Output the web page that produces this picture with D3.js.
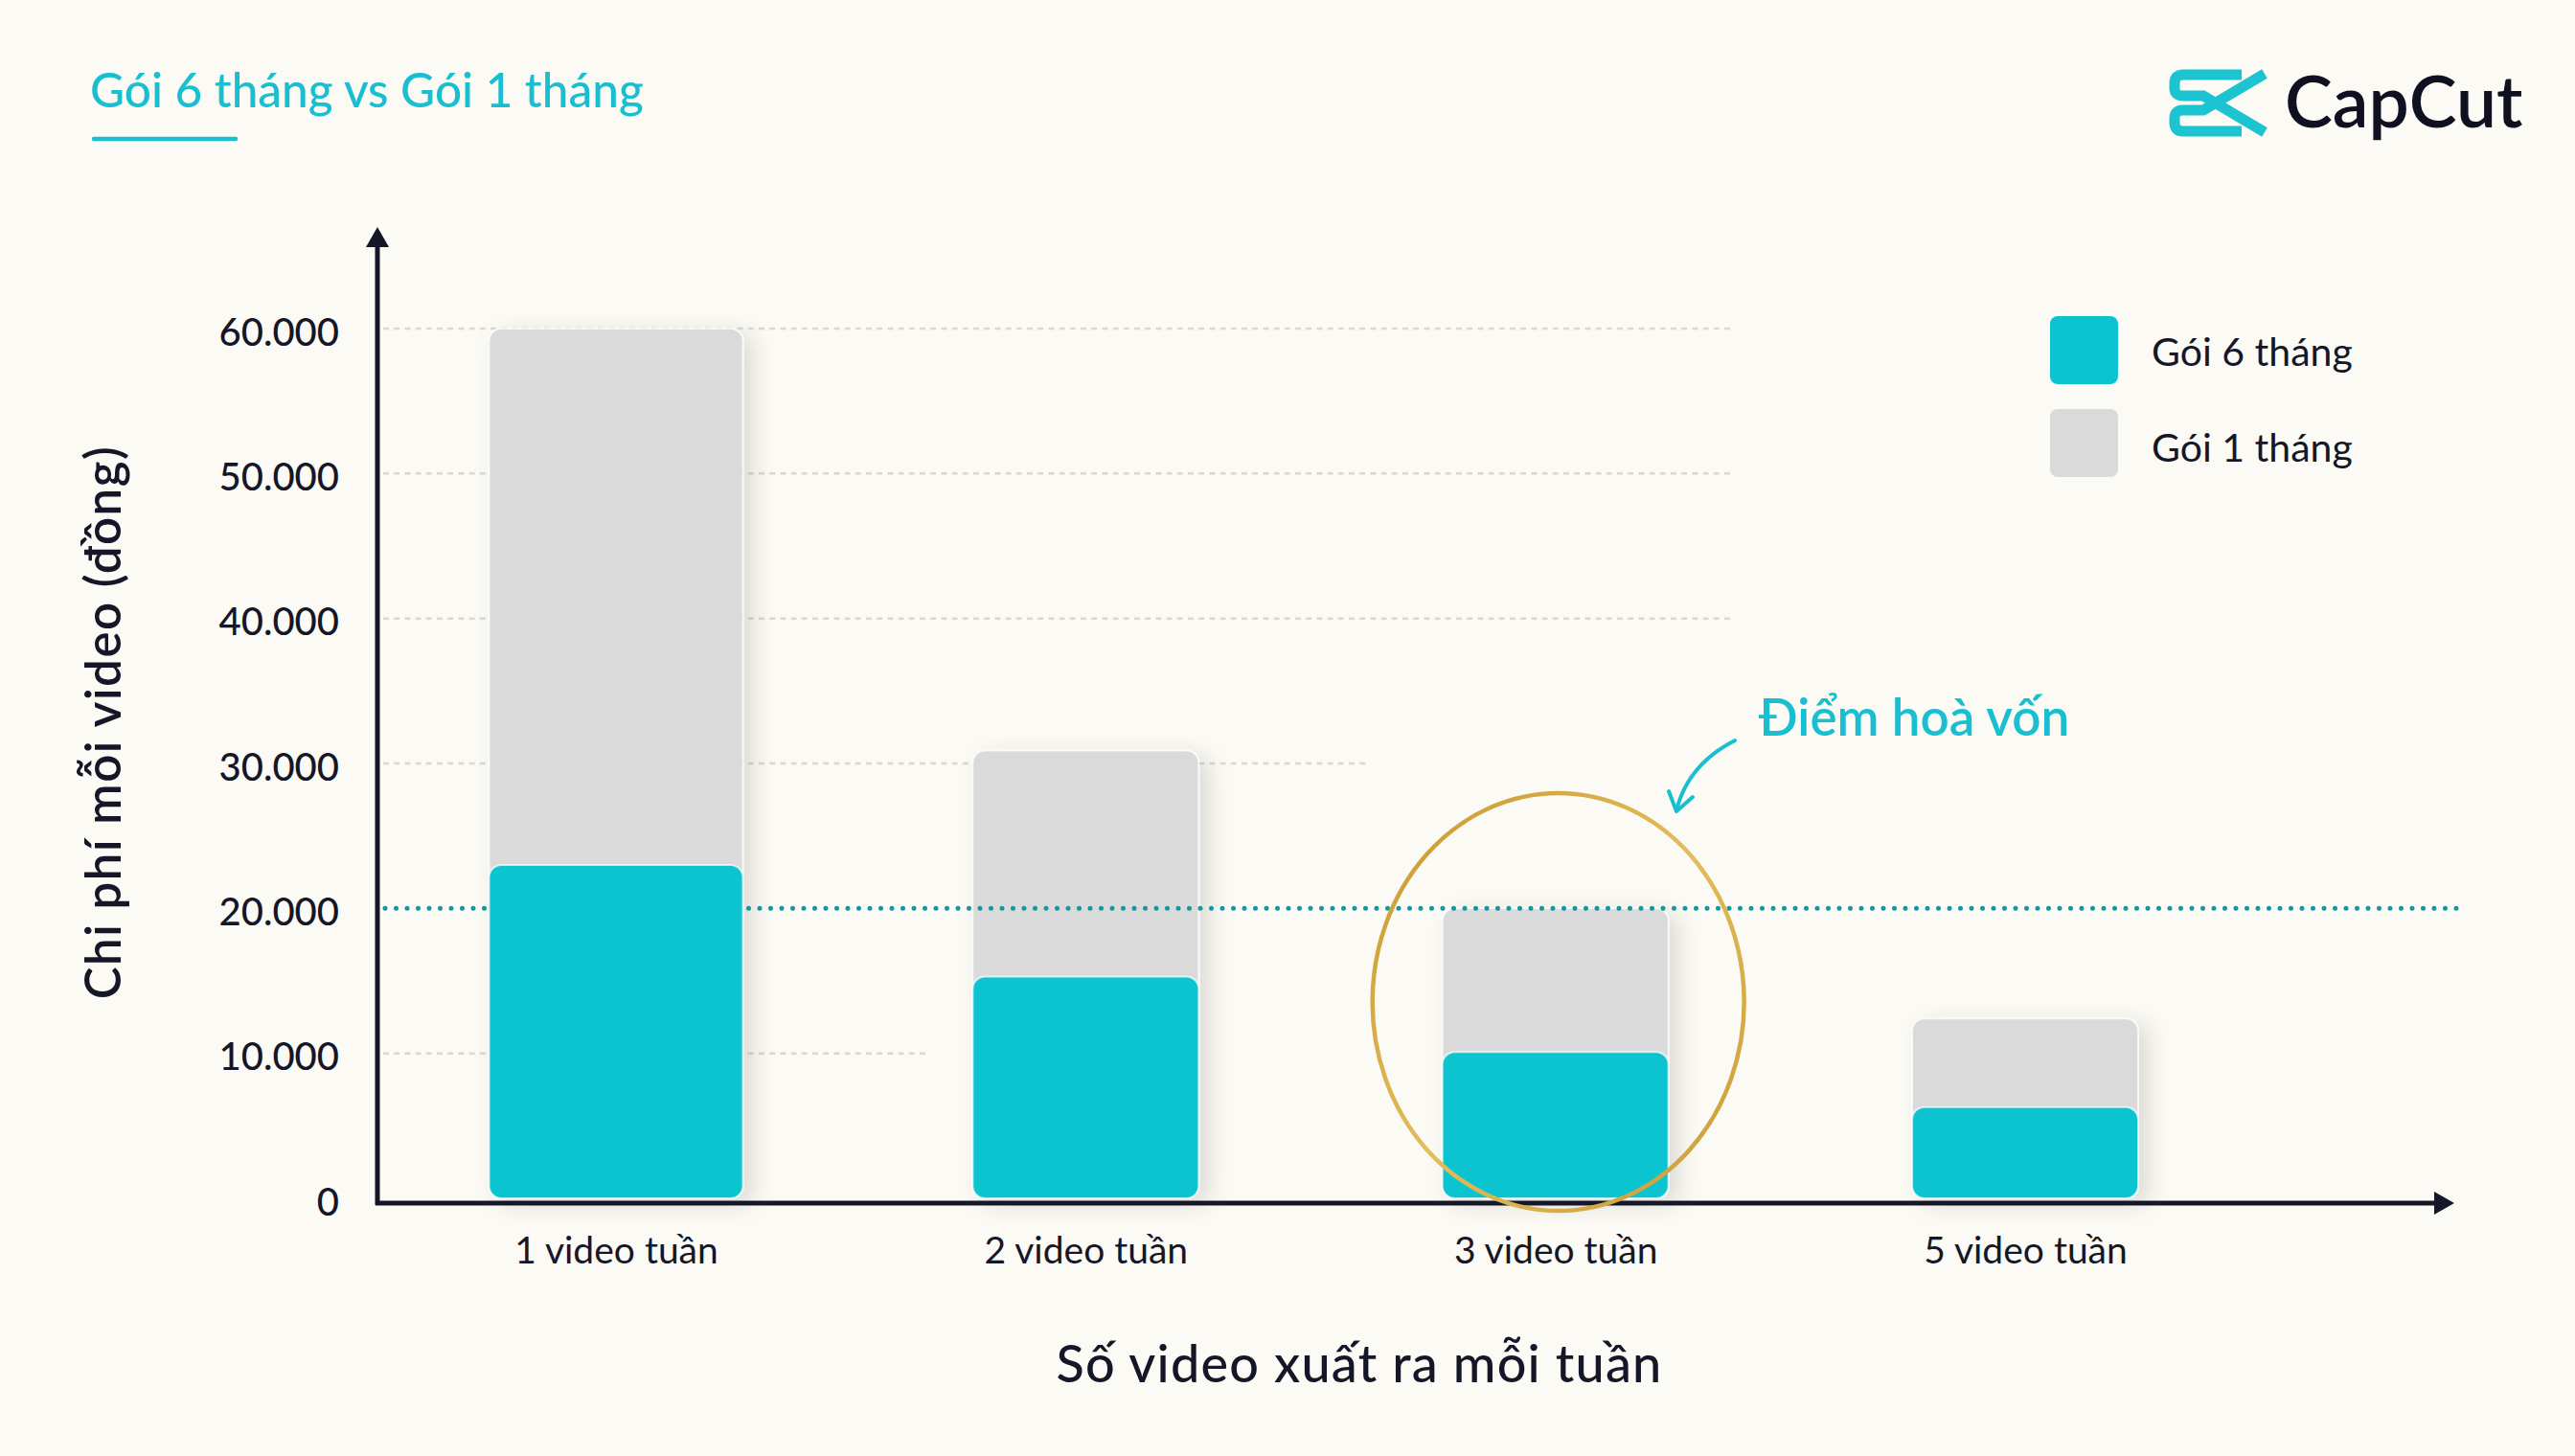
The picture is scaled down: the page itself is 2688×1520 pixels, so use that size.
<!DOCTYPE html>
<html>
<head>
<meta charset="utf-8">
<script src="https://cdn.jsdelivr.net/npm/d3@7/dist/d3.min.js"></script>
<style>
  html, body { margin: 0; padding: 0; background: #FBFAF4; }
  svg { display: block; }
  text { font-family: Lato, "Noto Sans", sans-serif; }
</style>
</head>
<body>
<svg id="chart" width="2688" height="1520"></svg>
<script>
// ---- data ----
const categories = ["1 video tuần", "2 video tuần", "3 video tuần", "5 video tuần"];
const plan6Month = [23000, 15300, 10100, 6300];   // Gói 6 tháng
const plan1Month = [60000, 30900, 20000, 12400];  // Gói 1 tháng
const yTicks = [0, 10000, 20000, 30000, 40000, 50000, 60000];
const yTickLabels = ["0", "10.000", "20.000", "30.000", "40.000", "50.000", "60.000"];
const breakEvenValue = 20000;
const seriesNames = ["Gói 6 tháng", "Gói 1 tháng"];
const titleText = "Gói 6 tháng vs Gói 1 tháng";
const xTitle = "Số video xuất ra mỗi tuần";
const yTitle = "Chi phí mỗi video (đồng)";
const annotationText = "Điểm hoà vốn";
const highlightIndex = 2;

// ---- style ----
const TEAL = "#0CC4CF", GRAY = "#DADADA", DARK = "#151728", ACCENT = "#19BFD0", DOT = "#13979F";

const svg = d3.select("#chart");
svg.append("rect").attr("width", 2688).attr("height", 1520).attr("fill", "#FBFAF4");

const defs = svg.append("defs");
const sh = defs.append("filter").attr("id", "shadow").attr("x", "-30%").attr("y", "-10%").attr("width", "160%").attr("height", "130%");
sh.append("feDropShadow").attr("dx", 10).attr("dy", 6).attr("stdDeviation", 12).attr("flood-color", "#000").attr("flood-opacity", 0.13);
const gold = defs.append("linearGradient").attr("id", "gold").attr("x1", "0").attr("y1", "0").attr("x2", "1").attr("y2", "1");
gold.append("stop").attr("offset", "0%").attr("stop-color", "#C8962C");
gold.append("stop").attr("offset", "50%").attr("stop-color", "#E2BE5C");
gold.append("stop").attr("offset", "100%").attr("stop-color", "#C99A34");

// ---- scales ----
const x0 = 394, xEnd = 2562;
const y = d3.scaleLinear().domain([0, 60000]).range([1251, 343]);
const x = d3.scalePoint().domain(categories).range([643, 2114]);
const barW = (i) => i === 0 ? 265 : 236;

// ---- gridlines ----
const gridEnd = { 10000: 970, 30000: 1427, 40000: 1808, 50000: 1808, 60000: 1808 };
svg.append("g").selectAll("line")
  .data(yTicks.filter(t => t !== 0 && t !== breakEvenValue))
  .join("line")
  .attr("x1", x0 + 6).attr("x2", d => gridEnd[d])
  .attr("y1", d => y(d)).attr("y2", d => y(d))
  .attr("stroke", "#DAD8D2").attr("stroke-width", 2.5).attr("stroke-dasharray", "6 5.2");

// ---- gray bars (1 month) ----
const gBars = svg.append("g");
gBars.selectAll("rect.gray")
  .data(categories)
  .join("rect")
  .attr("class", "gray")
  .attr("x", (d, i) => x(d) - barW(i) / 2)
  .attr("width", (d, i) => barW(i))
  .attr("y", (d, i) => y(plan1Month[i]))
  .attr("height", (d, i) => y(0) - y(plan1Month[i]))
  .attr("rx", 13)
  .attr("fill", GRAY)
  .attr("stroke", "#ffffff").attr("stroke-opacity", 0.7).attr("stroke-width", 2)
  .attr("filter", "url(#shadow)");

// ---- break-even dotted line ----
svg.append("line")
  .attr("x1", x0 + 8).attr("x2", 2575)
  .attr("y1", y(breakEvenValue)).attr("y2", y(breakEvenValue))
  .attr("stroke", DOT).attr("stroke-width", 5).attr("stroke-linecap", "round")
  .attr("stroke-dasharray", "0 11.5");

// ---- teal bars (6 month) ----
svg.append("g").selectAll("rect.teal")
  .data(categories)
  .join("rect")
  .attr("class", "teal")
  .attr("x", (d, i) => x(d) - barW(i) / 2)
  .attr("width", (d, i) => barW(i))
  .attr("y", (d, i) => y(plan6Month[i]))
  .attr("height", (d, i) => y(0) - y(plan6Month[i]))
  .attr("rx", 13)
  .attr("fill", TEAL)
  .attr("stroke", "#ffffff").attr("stroke-opacity", 0.7).attr("stroke-width", 2);

// ---- y tick labels via axis ----
const yAxis = d3.axisLeft(y).tickValues(yTicks).tickSize(0).tickPadding(0)
  .tickFormat((d, i) => yTickLabels[i]);
const gy = svg.append("g").attr("transform", "translate(354,0)").call(yAxis);
gy.select(".domain").remove();
gy.selectAll("text")
  .attr("font-family", "Lato, sans-serif").attr("font-size", 40).attr("font-weight", 500)
  .attr("fill", DARK).attr("dy", null).attr("y", 17);

// ---- x tick labels via axis ----
const xAxis = d3.axisBottom(x).tickSize(0).tickPadding(0);
const gx = svg.append("g").attr("transform", "translate(0,1319)").call(xAxis);
gx.select(".domain").remove();
gx.selectAll("text")
  .attr("font-family", "Lato, sans-serif").attr("font-size", 39).attr("font-weight", 400)
  .attr("fill", DARK).attr("dy", null).attr("y", 0);

// ---- axis lines with arrows ----
svg.append("line").attr("x1", x0).attr("x2", x0).attr("y1", 1258).attr("y2", 255)
  .attr("stroke", DARK).attr("stroke-width", 5);
svg.append("path").attr("d", `M${x0},237 L${x0 + 12},258 L${x0 - 12},258 Z`).attr("fill", DARK);
svg.append("line").attr("x1", x0 - 2).attr("x2", xEnd - 18).attr("y1", 1256).attr("y2", 1256)
  .attr("stroke", DARK).attr("stroke-width", 5);
svg.append("path").attr("d", `M${xEnd},1256 L${xEnd - 21},1244 L${xEnd - 21},1268 Z`).attr("fill", DARK);

// ---- highlight ellipse ----
const hx = x(categories[highlightIndex]);
svg.append("ellipse")
  .attr("cx", hx + 3).attr("cy", 1046).attr("rx", 194).attr("ry", 218)
  .attr("fill", "none").attr("stroke", "url(#gold)").attr("stroke-width", 4.5);

// ---- annotation ----
svg.append("text").attr("x", 1836).attr("y", 768)
  .attr("font-size", 53).attr("font-weight", 600).attr("fill", ACCENT).text(annotationText);
svg.append("path").attr("d", "M1811,773 Q1762,798 1750,846")
  .attr("fill", "none").attr("stroke", ACCENT).attr("stroke-width", 4).attr("stroke-linecap", "round");
svg.append("path").attr("d", "M1742,826 L1750,847 L1767,832")
  .attr("fill", "none").attr("stroke", ACCENT).attr("stroke-width", 4)
  .attr("stroke-linecap", "round").attr("stroke-linejoin", "round");

// ---- axis titles ----
svg.append("text").attr("x", 1419).attr("y", 1443).attr("text-anchor", "middle")
  .attr("font-size", 54).attr("font-weight", 500).attr("letter-spacing", 1.2).attr("fill", DARK).text(xTitle);
svg.append("text").attr("transform", "translate(126,754) rotate(-90)").attr("text-anchor", "middle")
  .attr("font-size", 51).attr("font-weight", 600).attr("letter-spacing", 1.5).attr("fill", DARK).text(yTitle);

// ---- title ----
svg.append("text").attr("x", 94).attr("y", 112)
  .attr("font-size", 49.5).attr("font-weight", 500).attr("fill", ACCENT).text(titleText);
svg.append("line").attr("x1", 98).attr("x2", 246).attr("y1", 145).attr("y2", 145)
  .attr("stroke", ACCENT).attr("stroke-width", 4.5).attr("stroke-linecap", "round");

// ---- legend ----
const legendColors = [TEAL, GRAY];
const lg = svg.append("g");
lg.selectAll("rect").data(seriesNames).join("rect")
  .attr("x", 2140).attr("y", (d, i) => 330 + i * 97).attr("width", 71).attr("height", 71)
  .attr("rx", 8).attr("fill", (d, i) => legendColors[i]);
lg.selectAll("text").data(seriesNames).join("text")
  .attr("x", 2246).attr("y", (d, i) => 382 + i * 100)
  .attr("font-size", 41).attr("font-weight", 400).attr("fill", DARK).text(d => d);

// ---- logo ----
const logo = svg.append("g").attr("fill", "none").attr("stroke", "#1CC3D0").attr("stroke-width", 11);
logo.append("path").attr("d", "M2340,78 H2279 Q2270,78 2270,87 V92 Q2270,100 2279,100 H2300 L2364,138");
logo.append("path").attr("d", "M2340,137 H2279 Q2270,137 2270,128 V123 Q2270,115 2279,115 H2300 L2364,77");
svg.append("text").attr("x", 2385).attr("y", 133)
  .attr("font-size", 75).attr("font-weight", 600).attr("fill", "#0F1120").text("CapCut");
</script>
</body>
</html>
